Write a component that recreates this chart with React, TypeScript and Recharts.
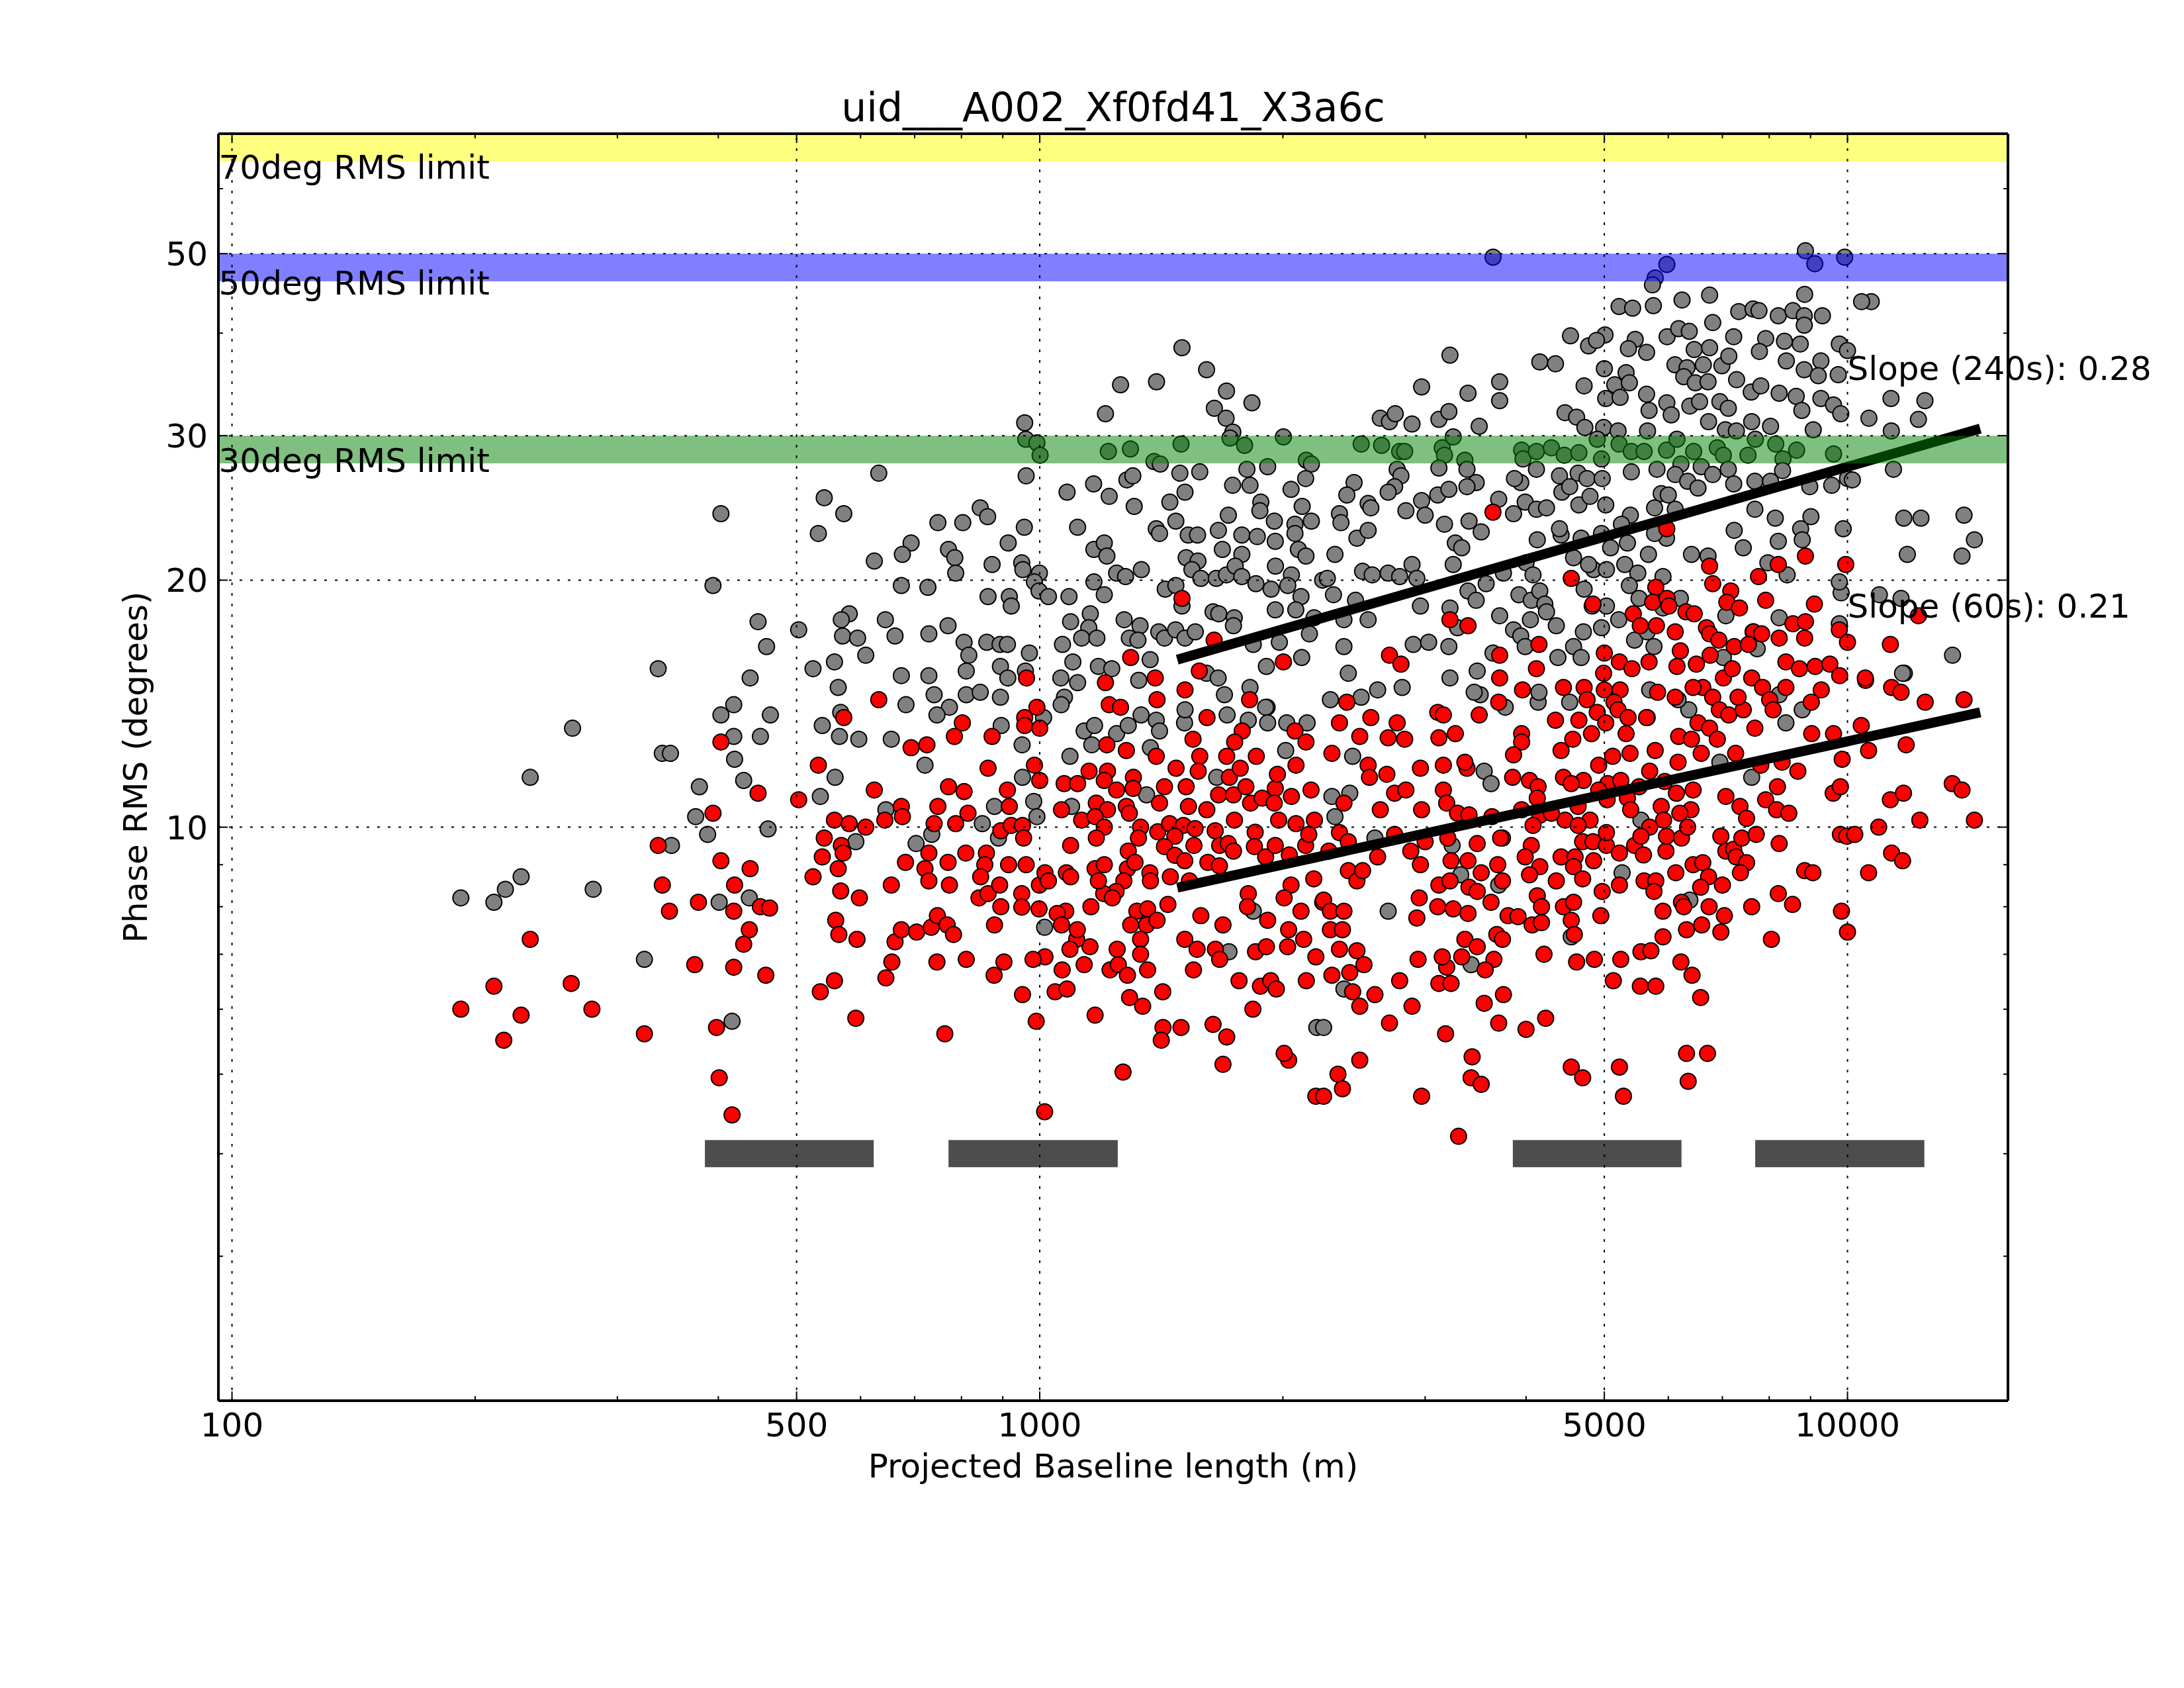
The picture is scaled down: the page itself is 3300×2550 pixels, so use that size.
import React from 'react';
import {
  ScatterChart,
  Scatter,
  XAxis,
  YAxis,
  ReferenceArea,
  ReferenceLine,
  ReferenceDot,
} from 'recharts';

// phase RMS vs projected baseline, 240s (grey) and 60s (red) timescales
const points240: [number, number][] = [
  [192, 8.2], [211, 8.1], [218, 8.4], [228, 8.7], [280, 8.4], [234, 11.5], [264, 13.2], [324, 6.9],
  [401, 8.1], [437, 8.2], [416, 5.8],
  [403, 24.1], [394, 19.7], [448, 17.8], [459, 16.6], [337, 15.6], [438, 15.2], [418, 14.1], [403, 13.7],
  [464, 13.7], [418, 12.9], [451, 12.9], [341, 12.3], [349, 12.3], [419, 12.1], [430, 11.4], [379, 11.2],
  [375, 10.3], [388, 9.8], [461, 9.95], [350, 9.5],
  [1500, 38.4], [1609, 36.1], [1259, 34.6], [1395, 34.9], [1703, 34.0], [1831, 32.9], [1206, 31.9],
  [1645, 32.4], [1701, 31.5], [1734, 30.3], [958, 31.1], [2003, 29.9], [961, 29.7], [992, 29.4],
  [1001, 28.4], [1216, 28.7], [1295, 28.9], [1496, 29.3], [1720, 29.8], [1793, 29.2], [1385, 27.9],
  [2138, 28.0], [632, 27.0], [962, 26.8], [1410, 27.7], [1491, 27.0], [1578, 27.1], [1805, 27.3],
  [1915, 27.5], [2169, 27.7], [2134, 26.6], [1166, 26.2], [1081, 25.6], [1219, 25.3], [1282, 26.5],
  [1304, 26.8], [1513, 25.6], [1733, 26.1], [1821, 26.1], [2047, 25.8], [1309, 24.6], [1449, 24.9],
  [1878, 24.9], [2113, 24.6], [1873, 24.3], [1712, 24.0], [541, 25.2], [572, 24.1], [532, 22.8],
  [748, 23.5], [803, 23.5], [844, 24.5], [862, 23.9], [957, 23.2], [1114, 23.2], [1474, 23.6],
  [1394, 23.1], [1407, 22.8], [1527, 22.7], [1568, 22.7], [1664, 23.0], [1779, 22.7], [1859, 22.6],
  [1952, 23.6], [2070, 23.4], [2070, 22.8], [2169, 23.6], [1957, 22.3], [693, 22.2], [676, 21.5],
  [771, 21.8], [785, 21.3], [624, 21.1], [914, 22.2], [873, 20.9], [950, 21.0], [953, 20.6],
  [1167, 21.8], [1202, 22.2], [1211, 21.4], [1518, 21.3], [1570, 21.1], [1683, 21.8], [1779, 21.5],
  [2090, 21.8], [2136, 21.4], [787, 20.4], [999, 20.4], [985, 19.9], [1245, 20.4], [1277, 20.2],
  [1336, 20.6], [1543, 20.6], [1583, 20.1], [1654, 20.1], [1703, 20.3], [1746, 20.8], [1779, 20.2],
  [1958, 20.8], [2049, 20.3], [2240, 20.0], [674, 19.7], [727, 19.6], [863, 19.1], [917, 19.1],
  [922, 18.6], [998, 19.4], [1025, 19.1], [1087, 19.1], [1167, 19.9], [1202, 19.2], [1430, 19.5],
  [1474, 19.7], [1500, 18.6], [1852, 19.8], [1934, 19.5], [2028, 19.7], [2106, 19.1], [1957, 18.4],
  [2075, 18.4], [503, 17.4], [581, 18.2], [568, 17.9], [570, 17.1], [595, 17.0], [644, 17.9],
  [662, 17.1], [729, 17.2], [770, 17.6], [806, 16.8], [817, 16.2], [860, 16.8], [893, 16.7],
  [912, 16.7], [971, 16.3], [1092, 17.8], [1155, 18.2], [1150, 17.5], [1127, 17.0], [1177, 17.0],
  [1067, 16.7], [1099, 15.9], [1272, 17.9], [1331, 17.6], [1291, 17.0], [1323, 16.9], [1404, 17.3],
  [1427, 17.0], [1473, 17.4], [1513, 17.0], [1558, 17.3], [1639, 18.3], [1666, 18.2], [1741, 18.0],
  [1737, 17.6], [1838, 16.7], [1980, 16.8], [2157, 17.2], [2186, 18.0], [524, 15.6], [557, 15.9],
  [609, 16.2], [563, 14.8], [674, 15.3], [729, 15.3], [811, 15.5], [894, 15.7], [913, 15.2],
  [960, 15.5], [1062, 15.2], [1114, 15.0], [1182, 15.7], [1228, 15.6], [1370, 16.0], [1326, 15.1],
  [1609, 15.4], [1663, 15.2], [1908, 15.7], [2110, 16.1], [1693, 14.5], [1821, 14.8], [1912, 14.0],
  [567, 13.8], [538, 13.3], [565, 12.9], [597, 12.8], [655, 12.8], [683, 14.1], [740, 14.5],
  [773, 14.0], [746, 13.7], [811, 14.5], [844, 14.6], [894, 14.4], [896, 13.3], [951, 12.6],
  [1073, 14.4], [1063, 14.1], [1011, 13.6], [1135, 13.1], [1169, 13.3], [1245, 13.0], [1287, 13.3],
  [1335, 13.7], [1394, 13.5], [1407, 13.1], [1511, 13.4], [1513, 13.9], [1706, 13.7], [1812, 13.5],
  [1904, 14.0], [1915, 13.4], [2022, 13.4], [2143, 13.4], [2016, 12.4], [1090, 12.2], [1160, 12.6],
  [1371, 12.5],
  [558, 11.5], [535, 10.9], [721, 11.9], [645, 10.5], [592, 9.6], [703, 9.55], [735, 9.8], [849, 10.1],
  [879, 10.6], [889, 9.7], [983, 10.75], [992, 10.3], [952, 11.5], [1014, 7.55], [1095, 10.6],
  [1356, 10.95], [1656, 11.5], [1715, 7.05], [2203, 5.7], [1838, 7.9],
  [3641, 49.5], [5975, 48.5], [5780, 46.7], [8870, 50.4], [9110, 48.6], [9920, 49.5], [5735, 45.8],
  [5750, 43.2], [5215, 43.1], [5420, 42.9], [6240, 43.9], [6750, 44.5], [8850, 44.6], [7335, 42.5],
  [7640, 42.8], [7770, 42.6], [8210, 42.0], [8560, 42.6], [8840, 42.0], [9310, 42.0], [8840, 40.9],
  [6810, 41.2], [4540, 39.7], [5010, 39.8], [4780, 38.6], [4890, 39.2], [5460, 39.3], [5355, 38.3],
  [5640, 37.9], [5980, 39.6], [6180, 40.5], [6370, 40.2], [7230, 39.6], [7920, 39.4], [8355, 39.1],
  [8740, 38.8], [9770, 38.8], [7780, 38.0], [8400, 37.0], [9270, 37.0], [10000, 38.1], [3220, 37.6],
  [4160, 36.9], [4350, 36.7], [5000, 36.2], [6115, 36.6], [6330, 36.3], [6460, 38.2], [6750, 38.4],
  [6630, 36.6], [6990, 36.5], [7130, 37.5], [8840, 36.1], [9200, 35.5], [9740, 35.6], [2970, 34.4],
  [3390, 33.8], [3710, 34.9], [3710, 33.1], [4720, 34.5], [5150, 34.6], [5320, 35.8], [5370, 34.8],
  [5020, 33.3], [5230, 33.4], [5640, 33.7], [5975, 32.9], [5680, 32.2], [6270, 35.4], [6480, 34.8],
  [6720, 34.9], [7290, 35.1], [7600, 33.9], [7810, 34.5], [8230, 33.8], [8640, 33.5], [9270, 33.3],
  [9610, 32.7], [6380, 32.6], [6560, 33.0], [6950, 33.0], [7120, 32.4], [6730, 31.2], [6050, 31.8],
  [2640, 31.5], [2710, 31.2], [2755, 31.9], [2890, 31.0], [3120, 31.4], [3210, 32.1], [3500, 30.8],
  [4470, 32.0], [4620, 31.6], [4730, 30.7], [4990, 30.7], [5200, 30.4], [5655, 30.4], [7060, 30.5],
  [7285, 30.4], [7610, 31.2], [8030, 30.8], [9070, 30.5], [9810, 31.9], [8780, 32.2],
  [2500, 29.3], [2650, 29.2], [2790, 28.7], [2830, 28.7], [3150, 29.0], [3170, 28.4], [3250, 29.9],
  [3360, 28.0], [3950, 28.8], [3965, 28.1], [4120, 28.7], [4300, 29.0], [4460, 28.4], [4650, 28.6],
  [4900, 29.7], [4960, 28.1], [5215, 29.3], [5400, 28.7], [5600, 28.7], [5970, 28.8], [6150, 29.7],
  [6450, 28.7], [6900, 29.0], [7020, 28.4], [7530, 28.4], [7690, 29.7], [8150, 29.3], [8650, 28.8],
  [8320, 28.1], [9610, 28.5],
  [2770, 27.3], [2800, 26.8], [3120, 27.4], [3380, 27.3], [3470, 26.3], [3380, 26.0], [2750, 26.0],
  [2700, 25.6], [2450, 26.3], [2400, 25.4], [2550, 24.8], [2570, 24.5], [2350, 24.1], [2360, 23.5],
  [2840, 24.3], [2970, 25.0], [3110, 25.4], [3210, 25.8], [3000, 24.0], [3170, 23.4], [3400, 23.6],
  [3520, 22.9], [3700, 25.1], [3940, 26.3], [3870, 26.6], [3990, 24.9], [4120, 24.4], [4240, 24.5],
  [3860, 24.1], [4120, 27.3], [4400, 26.8], [4640, 27.0], [4760, 26.6], [4970, 26.6], [4430, 25.6],
  [4530, 26.0], [4650, 24.7], [4800, 25.3], [5020, 24.7], [5400, 27.1], [5810, 27.3], [6220, 27.7],
  [6590, 27.5], [6810, 26.9], [6120, 26.9], [6340, 26.4], [6530, 25.9], [5880, 25.5], [6000, 25.4],
  [7120, 27.3], [7230, 26.2], [7680, 26.4], [8030, 26.4], [8310, 27.2], [8980, 26.0], [9560, 26.1],
  [10000, 26.6], [7680, 24.4], [8140, 23.8], [9010, 23.9], [8750, 23.1], [8790, 22.4], [9880, 23.1],
  [7240, 23.0], [7430, 21.9], [8210, 22.3], [6410, 21.5], [6720, 21.4], [7970, 21.0], [8420, 20.3],
  [5770, 24.5], [6120, 24.4], [5385, 24.0], [5970, 22.5], [5670, 21.5], [5340, 22.2], [5300, 20.9],
  [5500, 20.4], [5910, 20.2], [5770, 22.8], [5250, 23.4], [4960, 22.8], [4580, 21.3], [4680, 22.5],
  [4420, 22.7], [4400, 23.1], [4130, 22.4], [4850, 20.6], [5030, 20.6], [5090, 21.9], [4780, 20.9],
  [2470, 22.5], [2550, 23.0], [2320, 21.5], [2270, 20.1], [2310, 19.2], [2510, 20.5], [2580, 20.3],
  [2700, 20.4], [2790, 20.2], [2890, 20.9], [2930, 20.1], [3250, 20.9], [3270, 22.2], [3330, 21.9],
  [3570, 19.8], [3750, 20.4], [3390, 19.4], [3470, 18.9], [2960, 18.6], [2460, 18.9], [2380, 17.9],
  [2550, 17.9], [4000, 21.0], [4080, 20.3], [3920, 19.2], [4060, 18.9], [4160, 19.4], [4220, 18.7],
  [4240, 18.3], [4050, 17.9], [4360, 17.6], [3710, 18.1], [3860, 17.4], [3940, 17.1], [3990, 16.6],
  [3640, 16.3], [3510, 14.5], [3450, 14.6], [3770, 14.0], [3480, 15.5], [3220, 15.2], [3290, 17.5],
  [3220, 18.5], [2900, 16.7], [3030, 16.8], [3210, 16.6], [2380, 16.6], [2410, 15.4], [2620, 14.7],
  [2810, 14.8], [2500, 14.4], [2290, 14.3], [4380, 16.1], [4580, 16.6], [4710, 17.3], [4680, 16.1],
  [4960, 17.5], [5030, 18.6], [4830, 18.6], [4720, 19.5], [5370, 19.7], [5210, 17.9], [5520, 19.0],
  [5910, 18.5], [5450, 16.9], [5760, 16.6], [5650, 17.3], [6210, 19.0], [7070, 18.1], [7640, 17.3],
  [7730, 16.5], [8230, 18.0], [9770, 17.7], [9820, 19.3], [9770, 19.9], [8230, 14.5], [8390, 13.4],
  [8790, 13.9], [6360, 13.9], [6170, 14.3], [5690, 14.7], [7020, 16.1], [4140, 14.2], [4150, 14.6],
  [4530, 14.2],
  [2440, 12.2], [3550, 11.7], [3620, 11.3], [2300, 10.9], [2420, 11.0], [2320, 10.3], [2600, 9.7],
  [3240, 9.5], [3320, 8.75], [3700, 8.5], [2700, 7.9], [3420, 6.8], [2380, 6.35], [5260, 8.8],
  [6380, 8.15], [7610, 11.5], [6950, 12.0], [5550, 10.2], [2246, 5.7], [4550, 7.35],
  [10700, 43.7], [10410, 43.7], [11320, 33.3], [12470, 33.1], [12240, 31.4], [11330, 30.4],
  [10630, 31.5], [11400, 27.3], [11740, 23.8], [12330, 23.8], [13940, 24.0], [14360, 22.4],
  [11860, 21.5], [13860, 21.4], [10950, 19.2], [11650, 19.0], [13490, 16.2], [11760, 15.4],
  [10140, 26.5], [11700, 15.4],
];

const points60: [number, number][] = [
  [348, 7.9], [378, 8.1], [418, 7.9], [451, 8.0], [463, 7.97], [234, 7.3], [374, 6.8], [418, 6.75],
  [437, 7.5], [430, 7.2], [458, 6.6], [211, 6.4], [263, 6.45], [192, 6.0], [228, 5.9], [279, 6.0],
  [217, 5.5], [324, 5.6], [398, 5.7], [401, 4.95], [416, 4.46],
  [403, 12.7], [448, 11.0], [394, 10.4], [337, 9.5], [403, 9.1], [438, 8.9], [341, 8.5], [419, 8.5],
  [1500, 19.0], [1644, 16.9], [1296, 16.1], [2003, 15.9], [1390, 15.2], [1206, 15.0], [1576, 15.5],
  [1513, 14.7], [1397, 14.3], [1819, 14.3], [632, 14.3], [572, 13.6], [963, 15.2], [992, 14.0],
  [958, 13.6], [958, 13.3], [1000, 13.2], [1219, 14.1], [1259, 14.0], [1611, 13.6], [1781, 13.1],
  [1743, 12.7], [2070, 13.1], [2136, 12.7], [1548, 12.8], [802, 13.4], [784, 12.9], [725, 12.6],
  [693, 12.5], [873, 12.9], [1211, 12.6], [1280, 12.4], [1394, 12.2], [1578, 12.2], [1704, 12.2],
  [1854, 12.2],
  [532, 11.9], [624, 11.1], [503, 10.8], [557, 10.2], [581, 10.1], [609, 10.0], [541, 9.7], [568, 9.5],
  [571, 9.3], [538, 9.2], [563, 8.9], [524, 8.7], [567, 8.36], [598, 8.2], [559, 7.7], [564, 7.4],
  [594, 7.3], [674, 10.6], [676, 10.3], [643, 10.2], [748, 10.6], [771, 11.2], [806, 11.05], [740, 10.1],
  [787, 10.1], [815, 10.4], [863, 11.8], [912, 11.1], [917, 10.6], [895, 9.9], [922, 10.05], [952, 10.05],
  [955, 9.7], [1000, 11.4], [985, 11.9], [729, 9.3], [682, 9.06], [721, 8.9], [729, 8.6], [655, 8.5],
  [770, 9.06], [773, 8.5], [810, 9.3], [859, 9.3], [855, 9.0], [845, 8.7], [841, 8.2], [863, 8.3],
  [892, 8.5], [895, 8.0], [915, 9.0], [962, 9.0], [950, 8.3], [950, 7.99], [998, 7.95], [999, 8.5],
  [1015, 8.8], [1025, 8.6], [1092, 9.5], [1079, 8.8], [1092, 8.7], [1064, 10.5], [1072, 11.3],
  [1114, 11.3], [1151, 11.7], [1213, 11.7], [1202, 11.4], [1175, 10.7], [1213, 10.5], [1127, 10.2],
  [1171, 10.3], [1202, 10.0], [1175, 9.7], [1245, 11.1], [1306, 11.5], [1305, 11.15], [1280, 10.6],
  [1291, 10.4], [1407, 10.7], [1427, 11.2], [1475, 11.8], [1571, 11.7], [1518, 11.2], [1528, 10.6],
  [1610, 10.5], [1665, 10.95], [1717, 11.5], [1737, 10.95], [1771, 11.8], [1800, 11.2], [1824, 10.7],
  [1885, 10.85], [1957, 11.15], [1969, 11.6], [1951, 10.7], [2049, 10.9], [2167, 11.1], [2076, 11.9],
  [2188, 10.2], [1976, 10.2], [1848, 9.86], [1742, 10.2], [1649, 9.9], [1670, 9.5], [1712, 9.55],
  [1737, 9.35], [1844, 9.47], [1904, 9.2], [1957, 9.5], [2037, 9.25], [2134, 9.5], [2153, 9.8],
  [2076, 10.1], [1333, 10.0], [1400, 9.87], [1448, 10.1], [1506, 10.05], [1557, 9.96], [1470, 9.75],
  [1427, 9.47], [1470, 9.24], [1512, 9.1], [1552, 9.5], [1615, 9.06], [1669, 8.97], [1325, 9.7],
  [1287, 9.35], [1284, 8.9], [1271, 8.6], [1369, 8.8], [1371, 8.6], [1451, 8.7], [1532, 8.6],
  [1243, 8.35], [1200, 8.3], [1230, 8.2], [1312, 9.06], [1171, 8.9], [1202, 9.0], [1182, 8.6],
  [1157, 8.0], [1441, 8.05], [1319, 7.9], [1360, 7.95], [1296, 7.6], [1356, 7.6], [1397, 7.7],
  [1333, 7.3], [1333, 7.0], [1360, 6.7], [1583, 7.8], [1686, 7.6], [1812, 8.3], [1808, 8.0],
  [2047, 8.5], [2007, 8.2], [2106, 7.9], [2184, 8.65], [2240, 8.1], [1915, 7.7], [2033, 7.5],
  [2122, 7.3], [2027, 7.15], [1850, 7.05], [1908, 7.15], [2197, 6.95], [1512, 7.3], [1566, 7.1],
  [1650, 7.1], [1670, 6.9], [1550, 6.7], [1765, 6.5], [1876, 6.4], [1932, 6.5], [1963, 6.35],
  [2138, 6.5], [1836, 6.0], [1639, 5.75], [1704, 5.55], [1420, 6.3], [1421, 5.7], [1414, 5.5],
  [1496, 5.7], [1268, 5.03], [1686, 5.14], [2033, 5.2], [2007, 5.3], [2197, 4.7], [1292, 6.2],
  [1341, 6.05], [1222, 6.7], [1251, 6.8], [1284, 6.6], [1247, 7.1], [1154, 7.15], [1135, 6.8],
  [1111, 7.3], [1090, 7.1], [1066, 6.7], [1045, 6.3], [1081, 6.35], [1171, 5.9], [1113, 7.5],
  [1077, 7.9], [1051, 7.85], [1064, 7.6], [1015, 6.95], [981, 6.9], [952, 6.25], [990, 5.8],
  [1014, 4.5], [903, 6.85], [878, 6.6], [879, 7.6], [811, 6.9], [746, 6.85], [763, 5.6], [656, 6.85],
  [645, 6.55], [592, 5.85], [557, 6.5], [535, 6.3], [662, 7.25], [674, 7.5], [704, 7.45], [734, 7.55],
  [747, 7.8], [768, 7.6], [782, 7.4],
  [3640, 24.2], [5975, 23.1], [4550, 20.1], [4840, 18.7], [3220, 17.9], [3390, 17.6], [6750, 20.8],
  [6810, 19.8], [7760, 20.2], [7920, 18.9], [8210, 20.9], [8870, 21.4], [9950, 20.9], [5790, 19.6],
  [5740, 18.8], [5980, 19.0], [6010, 18.6], [6310, 18.3], [6460, 18.2], [5430, 18.2], [5540, 17.6],
  [5800, 17.6], [6120, 17.3], [6690, 17.5], [6750, 17.2], [6930, 16.9], [7170, 19.4], [7090, 18.8],
  [7350, 18.5], [7650, 17.3], [7830, 17.2], [8230, 17.0], [7240, 16.6], [7540, 16.7], [8560, 17.7],
  [8870, 17.8], [9100, 18.7], [8850, 17.0], [9770, 17.4], [10000, 16.8], [4150, 16.7], [3710, 16.2],
  [4120, 15.6], [3710, 15.2], [2710, 16.2], [2800, 15.8], [2400, 14.2], [2570, 13.6], [2350, 13.4],
  [2770, 13.4], [3110, 13.8], [3160, 13.7], [3500, 13.7], [3700, 14.2], [3960, 14.7], [4450, 14.8],
  [4720, 14.8], [4760, 14.3], [5000, 16.3], [4990, 15.4], [5220, 15.9], [5410, 15.6], [5680, 15.9],
  [5230, 14.7], [5000, 14.7], [5140, 14.2], [5650, 13.6], [5820, 14.6], [6120, 14.4], [6210, 16.4],
  [6150, 15.7], [6500, 15.8], [6760, 16.2], [7020, 15.2], [7200, 15.6], [6620, 14.8], [6440, 14.8],
  [6810, 14.4], [6940, 13.9], [7130, 13.7], [7430, 13.9], [7320, 14.4], [7610, 15.2], [7850, 14.8],
  [8010, 14.3], [8390, 14.8], [8390, 15.9], [8720, 15.6], [9120, 15.7], [9280, 14.7], [9510, 15.8],
  [9780, 15.3], [9020, 14.2], [8090, 13.9], [7680, 13.2], [6530, 13.4], [6750, 13.2], [6180, 12.9],
  [6410, 12.8], [6900, 12.8], [2490, 12.9], [2700, 12.85], [2830, 12.8], [3120, 12.85], [3270, 13.0],
  [3950, 13.0], [3950, 12.7], [4350, 13.5], [4650, 13.5], [4900, 13.8], [5020, 13.4], [5200, 13.9],
  [5350, 13.6], [5640, 13.6], [5320, 13.0], [4820, 13.0], [4570, 12.8], [9030, 13.0], [9610, 13.0],
  [2300, 12.3], [2550, 11.9], [2560, 11.5], [2690, 11.6], [2960, 11.8], [3160, 11.9], [3380, 11.8],
  [3360, 12.0], [3860, 12.25], [4420, 12.4], [5120, 12.2], [5380, 12.3], [5780, 12.4], [6170, 12.0],
  [6590, 12.3], [7270, 12.3], [7810, 11.9], [8300, 12.0], [8680, 11.7], [9850, 12.1], [2380, 10.7],
  [2640, 10.5], [2750, 11.0], [2840, 11.1], [2970, 10.5], [3160, 11.1], [3190, 10.7], [3290, 10.4],
  [3400, 10.35], [3630, 10.3], [3740, 9.7], [3850, 11.5], [4040, 11.4], [4140, 11.2], [4130, 10.85],
  [4160, 10.34], [4450, 11.5], [4710, 11.4], [4550, 11.3], [4920, 11.9], [5050, 11.3], [4920, 11.1],
  [5240, 11.4], [5340, 10.85], [5520, 11.2], [5690, 11.7], [5940, 11.37], [6140, 11.0], [6440, 11.1],
  [6400, 10.5], [6200, 10.4], [5880, 10.6], [5920, 10.2], [5690, 10.0], [5390, 10.5], [5040, 10.8],
  [4640, 10.6], [4800, 10.2], [4470, 10.2], [4640, 10.05], [4300, 10.4], [3950, 10.5], [4080, 10.05],
  [7070, 10.9], [7360, 10.6], [7500, 10.25], [7920, 10.8], [8190, 11.2], [8170, 10.5], [8460, 10.4],
  [9600, 11.0], [9800, 11.2], [2350, 9.85], [2410, 9.6], [2280, 9.35], [2620, 9.2], [2750, 9.8],
  [2880, 9.35], [3000, 9.6], [3200, 9.7], [3480, 9.55], [3720, 9.7], [4060, 9.5], [3990, 9.2],
  [4160, 8.95], [4040, 8.75], [4360, 8.6], [4420, 9.2], [4600, 9.2], [4580, 8.95], [4700, 8.65],
  [4850, 9.1], [4700, 9.6], [4840, 9.6], [5030, 9.5], [5030, 9.85], [5220, 9.3], [5220, 8.5],
  [5450, 9.5], [5550, 9.75], [5590, 9.25], [5960, 9.35], [5970, 9.75], [6230, 9.7], [6340, 10.0],
  [6970, 9.75], [7070, 9.35], [7230, 9.4], [7280, 9.2], [7400, 9.7], [7710, 9.8], [7500, 9.05],
  [7370, 8.8], [8230, 9.55], [8850, 8.85], [9060, 8.8], [9800, 9.8], [9980, 9.75], [2410, 8.85],
  [2470, 8.6], [2510, 8.85], [2960, 9.0], [3120, 8.5], [3220, 8.6], [3230, 9.1], [3390, 9.1],
  [3400, 8.45], [3520, 8.8], [3690, 9.0], [3740, 8.6], [3480, 8.35], [3620, 8.1], [4130, 8.25],
  [4180, 8.0], [4450, 8.0], [4580, 8.1], [4550, 7.7], [4590, 7.4], [4950, 7.8], [4970, 8.35],
  [5600, 8.6], [5790, 8.6], [5760, 8.35], [6130, 8.8], [6440, 9.0], [6620, 9.05], [6730, 8.7],
  [6580, 8.45], [7000, 8.5], [6230, 8.1], [6270, 8.0], [6740, 8.0], [5910, 7.9], [6320, 7.5],
  [6600, 7.6], [7040, 7.8], [6970, 7.45], [7610, 8.0], [8210, 8.3], [8550, 8.05], [8050, 7.3],
  [9830, 7.9], [10000, 7.45], [2246, 8.15], [2290, 7.9], [2380, 7.9], [2290, 7.5], [2370, 7.5],
  [2350, 7.1], [2470, 7.07], [2520, 6.8], [2300, 6.6], [2420, 6.65], [2440, 6.3], [2490, 6.05],
  [2600, 6.25], [2710, 5.77], [2790, 6.5], [2890, 6.05], [2940, 6.9], [2930, 7.75], [2950, 8.2],
  [3110, 8.0], [3250, 7.95], [3390, 7.85], [3800, 7.8], [3910, 7.78], [4070, 7.6], [4180, 7.65],
  [3680, 7.4], [3740, 7.3], [3360, 7.3], [3480, 7.15], [3330, 6.95], [3650, 6.9], [3560, 6.7],
  [3190, 6.75], [3150, 6.95], [3120, 6.45], [3230, 6.45], [3550, 6.1], [3750, 6.25], [3700, 5.77],
  [4000, 5.67], [4230, 5.85], [4210, 7.0], [4620, 6.85], [4860, 6.9], [5240, 6.9], [5550, 7.05],
  [5710, 7.07], [5910, 7.35], [6220, 6.85], [6420, 6.6], [6580, 6.2], [5130, 6.5], [5540, 6.4],
  [5790, 6.4], [3180, 5.6], [2490, 5.2], [2340, 5.0], [2370, 4.8], [2246, 4.7], [2970, 4.7],
  [3430, 5.25], [3420, 4.95], [3520, 4.86], [4550, 5.1], [4700, 4.95], [5220, 5.1], [5280, 4.7],
  [6320, 5.3], [6710, 5.3], [6350, 4.9], [3300, 4.2],
  [10530, 15.1], [11340, 14.8], [11650, 14.6], [12480, 14.2], [13940, 14.3], [10400, 13.3],
  [10620, 12.4], [11820, 12.6], [13480, 11.3], [13860, 11.1], [11300, 10.8], [11730, 11.0],
  [12290, 10.2], [14360, 10.2], [10930, 10.0], [10210, 9.8], [11340, 9.3], [11700, 9.1], [10620, 8.8],
  [12240, 18.1], [11300, 16.7], [10520, 15.2],
];

// power-law fits, drawn as straight segments on the log axes
const fit240 = [{ x: 1480, y: 16.0 }, { x: 14600, y: 30.6 }];
const fit60 = [{ x: 1480, y: 8.44 }, { x: 14600, y: 13.8 }];

// baseline ranges marked along the bottom
const baselineBars: [number, number][] = [[385, 623], [771, 1249], [3852, 6230], [7687, 12450]];
const BAR_Y = 4.0;

const limits = [
  { value: 70, color: '#ffff00', label: '70deg RMS limit', labelY: 61.7 },
  { value: 50, color: '#0000ff', label: '50deg RMS limit', labelY: 44.6 },
  { value: 30, color: '#008000', label: '30deg RMS limit', labelY: 27.1 },
];

const slopeLabels = [
  { x: 10000, y: 35.1, text: 'Slope (240s): 0.28' },
  { x: 10000, y: 18.0, text: 'Slope (60s): 0.21' },
];

const xTicks = [100, 200, 300, 400, 500, 600, 700, 800, 900, 1000, 2000, 3000, 4000, 5000, 6000, 7000, 8000, 9000, 10000];
const xLabeled = [100, 500, 1000, 5000, 10000];
const yTicks = [2, 3, 4, 5, 6, 7, 8, 9, 10, 20, 30, 40, 50, 60, 70];
const yLabeled = [10, 20, 30, 50];
const xGrid = [100, 500, 1000, 5000, 10000];
const yGrid = [10, 20, 30, 50];

const X_DOMAIN: [number, number] = [96.2, 15800];
const Y_DOMAIN: [number, number] = [2, 70];

const FONT = "'DejaVu Sans', sans-serif";
const FS = 50;
const W = 3300;
const H = 2550;

function makeTick(side: 'bottom' | 'top' | 'left' | 'right', labeled: number[]) {
  return (props: any) => {
    const { x, y, payload } = props;
    const v = payload.value;
    const major = labeled.includes(v);
    const len = major ? 14 : 7;
    let line;
    if (side === 'bottom') line = <line x1={x} x2={x} y1={y} y2={y - len} />;
    else if (side === 'top') line = <line x1={x} x2={x} y1={y} y2={y + len} />;
    else if (side === 'left') line = <line x1={x} x2={x + len} y1={y} y2={y} />;
    else line = <line x1={x} x2={x - len} y1={y} y2={y} />;
    return (
      <g stroke="#000" strokeWidth={2}>
        {line}
        {major && side === 'bottom' && (
          <text x={x} y={y + 54} textAnchor="middle" fontSize={FS} fontFamily={FONT} stroke="none" fill="#000">
            {v}
          </text>
        )}
        {major && side === 'left' && (
          <text x={x - 16} y={y + 18} textAnchor="end" fontSize={FS} fontFamily={FONT} stroke="none" fill="#000">
            {v}
          </text>
        )}
      </g>
    );
  };
}

const dot = (fill: string) => (p: any) => (
  <circle cx={p.cx} cy={p.cy} r={12} fill={fill} stroke="#000" strokeWidth={2} />
);

const textAt = (text: string) => (p: any) => (
  <text x={p.cx} y={p.cy} fontSize={FS} fontFamily={FONT} fill="#000">
    {text}
  </text>
);

export default function App() {
  const grey = points240.map(([x, y]) => ({ x, y }));
  const red = points60.map(([x, y]) => ({ x, y }));
  const axisLine = { stroke: '#000', strokeWidth: 4 };

  return (
    <div style={{ position: 'absolute', left: 0, top: 0, width: W, height: H, background: '#fff' }}>
      <ScatterChart width={W} height={H} margin={{ top: 192, right: 256, bottom: 334, left: 230 }}>
        <XAxis
          xAxisId={0}
          dataKey="x"
          type="number"
          scale="log"
          domain={X_DOMAIN}
          allowDataOverflow
          ticks={xTicks}
          interval={0}
          tick={makeTick('bottom', xLabeled)}
          tickLine={false}
          tickSize={0}
          tickMargin={0}
          axisLine={axisLine}
          height={100}
          zIndex={1100}
        />
        <XAxis
          xAxisId="top"
          orientation="top"
          dataKey="x"
          type="number"
          scale="log"
          domain={X_DOMAIN}
          allowDataOverflow
          ticks={xTicks}
          interval={0}
          tick={makeTick('top', xLabeled)}
          tickLine={false}
          tickSize={0}
          tickMargin={0}
          axisLine={axisLine}
          height={10}
          zIndex={1100}
        />
        <YAxis
          yAxisId={0}
          dataKey="y"
          type="number"
          scale="log"
          domain={Y_DOMAIN}
          allowDataOverflow
          ticks={yTicks}
          interval={0}
          tick={makeTick('left', yLabeled)}
          tickLine={false}
          tickSize={0}
          tickMargin={0}
          axisLine={axisLine}
          width={100}
          zIndex={1100}
        />
        <YAxis
          yAxisId="right"
          orientation="right"
          dataKey="y"
          type="number"
          scale="log"
          domain={Y_DOMAIN}
          allowDataOverflow
          ticks={yTicks}
          interval={0}
          tick={makeTick('right', yLabeled)}
          tickLine={false}
          tickSize={0}
          tickMargin={0}
          axisLine={axisLine}
          width={10}
          zIndex={1100}
        />

        <Scatter data={grey} shape={dot('#808080')} isAnimationActive={false} zIndex={600} />
        <Scatter data={red} shape={dot('#ff0000')} isAnimationActive={false} zIndex={601} />

        <ReferenceLine segment={fit240} stroke="#000" strokeWidth={15} zIndex={700} />
        <ReferenceLine segment={fit60} stroke="#000" strokeWidth={15} zIndex={700} />
        {baselineBars.map(([a, b]) => (
          <ReferenceLine
            key={a}
            segment={[{ x: a, y: BAR_Y }, { x: b, y: BAR_Y }]}
            stroke="#4d4d4d"
            strokeWidth={41}
            zIndex={700}
          />
        ))}

        {limits.map((l) => (
          <ReferenceArea
            key={l.value}
            y1={l.value * 0.925}
            y2={l.value}
            fill={l.color}
            fillOpacity={0.5}
            stroke="none"
            ifOverflow="hidden"
            zIndex={800}
          />
        ))}

        {xGrid.map((v) => (
          <ReferenceLine key={'gx' + v} x={v} stroke="#000" strokeWidth={2} strokeDasharray="4 12" zIndex={900} />
        ))}
        {yGrid.map((v) => (
          <ReferenceLine key={'gy' + v} y={v} stroke="#000" strokeWidth={2} strokeDasharray="4 12" zIndex={900} />
        ))}

        {limits.map((l) => (
          <ReferenceDot key={'t' + l.value} x={96.3} y={l.labelY} r={0} shape={textAt(l.label)} zIndex={1000} />
        ))}
        {slopeLabels.map((s) => (
          <ReferenceDot key={s.text} x={s.x} y={s.y} r={0} shape={textAt(s.text)} zIndex={1000} />
        ))}
      </ScatterChart>

      <svg width={W} height={H} style={{ position: 'absolute', left: 0, top: 0, pointerEvents: 'none' }}>
        <text x={1682} y={183} textAnchor="middle" fontSize={60} fontFamily={FONT}>
          uid___A002_Xf0fd41_X3a6c
        </text>
        <text x={1682} y={2232} textAnchor="middle" fontSize={FS} fontFamily={FONT}>
          Projected Baseline length (m)
        </text>
        <text transform="translate(222,1159) rotate(-90)" textAnchor="middle" fontSize={FS} fontFamily={FONT}>
          Phase RMS (degrees)
        </text>
      </svg>
    </div>
  );
}
